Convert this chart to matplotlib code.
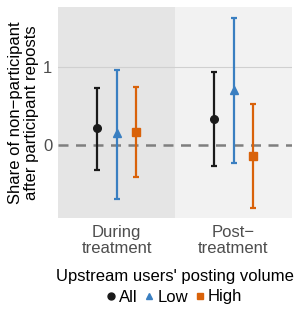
import matplotlib
matplotlib.use("Agg")
import matplotlib.pyplot as plt
import numpy as np
from matplotlib.lines import Line2D

plt.rcParams['font.family'] = ['Liberation Sans', 'DejaVu Sans']

categories = ["During\ntreatment", "Post\u2212\ntreatment"]
groups = ["All", "Low", "High"]
est = {"All": [0.21, 0.33], "Low": [0.15, 0.71], "High": [0.17, -0.14]}
lo = {"All": [-0.32, -0.27], "Low": [-0.69, -0.23], "High": [-0.41, -0.81]}
hi = {"All": [0.73, 0.93], "Low": [0.96, 1.63], "High": [0.74, 0.53]}
yticks = [0, 1]

colors = {"All": "#1a1a1a", "Low": "#3a7fc1", "High": "#d9620a"}
markers = {"All": "o", "Low": "^", "High": "s"}
offsets = {"All": -0.167, "Low": 0.0, "High": 0.167}

fig = plt.figure(figsize=(2.99, 3.17), dpi=100)
ax = fig.add_axes([58/299, 1-218/317, 234/299, 211/317])

ax.set_xlim(0.5, 2.5)
ax.set_ylim(-0.94, 1.77)
ax.axvspan(0.5, 1.5, color="#e5e5e5", zorder=0, lw=0)
ax.axvspan(1.5, 2.5, color="#f2f2f2", zorder=0, lw=0)
for yt in yticks:
    if yt != 0:
        ax.axhline(yt, color="#d0d0d0", lw=0.8, zorder=1)
ax.axhline(0, color="#7f7f7f", lw=1.8, ls=(0, (4, 3)), zorder=2)

x = np.arange(1, len(categories) + 1)
for g in groups:
    xs = x + offsets[g]
    e = np.array(est[g])
    yerr = np.vstack([e - np.array(lo[g]), np.array(hi[g]) - e])
    ax.errorbar(xs, e, yerr=yerr, fmt=markers[g], color=colors[g],
                ms=5.5, elinewidth=1.6, capsize=2.0,
                capthick=1.6, zorder=3)

ax.set_xticks(x)
ax.set_xticklabels(categories, color="#4d4d4d", fontsize=12, linespacing=1.1)
ax.set_yticks(yticks)
ax.set_yticklabels([str(t) for t in yticks], color="#4d4d4d", fontsize=12)
ax.tick_params(axis="x", length=0, pad=5)
ax.tick_params(axis="y", length=0, pad=4)
for s in ax.spines.values():
    s.set_visible(False)
ax.set_ylabel("Share of non\u2212participant\nafter participant reposts",
              fontsize=12, linespacing=1.1, labelpad=3)

fig.text(175/299, 1-276/317, "Upstream users' posting volume", ha="center",
         va="center", fontsize=12)
handles = [Line2D([], [], color=colors[g], marker=markers[g], ls="none", ms=5) for g in groups]
fig.legend(handles, groups, loc="center", bbox_to_anchor=(174/299, 1-297/317),
           ncol=3, frameon=False, fontsize=12, handlelength=0.6,
           handletextpad=0.2, columnspacing=0.4, borderpad=0)

fig.savefig("out.png", dpi=100)
